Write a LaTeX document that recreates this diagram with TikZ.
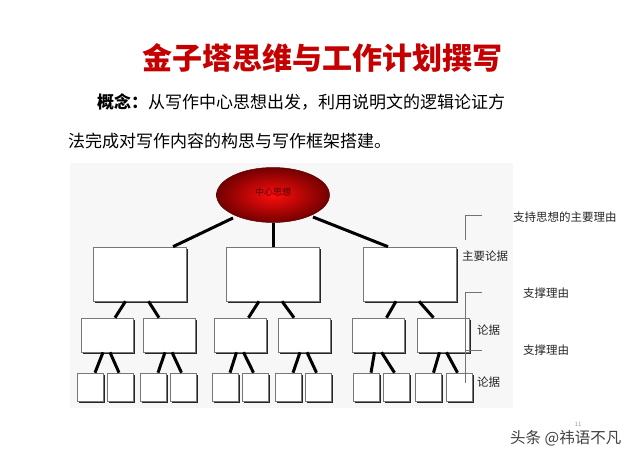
\documentclass[tikz,border=0pt]{standalone}
\usepackage{fontspec}
\setmainfont{Noto Sans CJK SC}
\usetikzlibrary{shadows,calc,shapes.geometric}
\definecolor{titlered}{HTML}{C40000}
\definecolor{bgpanel}{HTML}{F6F7F6}
\definecolor{boxline}{HTML}{777777}
\tikzset{
  box/.style={draw=boxline, line width=0.6pt, fill=white, inner sep=0pt,
    drop shadow={shadow xshift=1.6pt, shadow yshift=-1.6pt, fill=black!85, opacity=1}},
  lvA/.style={box, minimum width=93pt, minimum height=54pt},
  lvB/.style={box, minimum width=52pt, minimum height=34pt},
  lvC/.style={box, minimum width=26pt, minimum height=28pt},
  link/.style={line width=3pt, black},
  brk/.style={draw=black!55, line width=0.6pt},
  note/.style={font=\fontsize{11.5}{12}\selectfont, text=black!85, inner sep=0pt, anchor=west},
}
\begin{document}
\begin{tikzpicture}[x=1pt,y=-1pt]
\useasboundingbox (0,0) rectangle (640,460);
\fill[white] (0,0) rectangle (640,460);
% title
\node[font=\fontsize{30}{32}\selectfont\bfseries, text=titlered, inner sep=0pt] (title) at (322,58) {金子塔思维与工作计划撰写};
% paragraph
\node[font=\fontsize{17}{18}\selectfont, inner sep=0pt, anchor=west] (p1) at (97,102) {{\bfseries 概念：}从写作中心思想出发，利用说明文的逻辑论证方};
\node[font=\fontsize{17}{18}\selectfont, inner sep=0pt, anchor=west] (p2) at (68,141) {法完成对写作内容的构思与写作框架搭建。};
% panel
\fill[bgpanel] (70,163) rectangle (513,408);
% root
\node[ellipse, minimum width=113pt, minimum height=55pt, inner sep=0pt,
  inner color=red!95!white, outer color=red!45!black, draw=red!35!black, line width=0.5pt,
  font=\fontsize{9}{10}\selectfont, text=red!30!black] (root) at (273,195) {\raisebox{6pt}{中心思想}};
% level 1
\node[lvA] (a1) at (139.5,274) {};
\node[lvA] (a2) at (273,274) {};
\node[lvA] (a3) at (410,274) {};
% level 2
\node[lvB] (b1) at (107,335) {};
\node[lvB] (b2) at (169,335) {};
\node[lvB] (b3) at (240.5,335) {};
\node[lvB] (b4) at (304,335) {};
\node[lvB] (b5) at (378.5,335) {};
\node[lvB] (b6) at (443.5,335) {};
% level 3
\node[lvC] (c1) at (90,387) {};
\node[lvC] (c2) at (120.5,387) {};
\node[lvC] (c3) at (153,387) {};
\node[lvC] (c4) at (183,387) {};
\node[lvC] (c5) at (225,387) {};
\node[lvC] (c6) at (255,387) {};
\node[lvC] (c7) at (288,387) {};
\node[lvC] (c8) at (318,387) {};
\node[lvC] (c9) at (366,387) {};
\node[lvC] (c10) at (396,387) {};
\node[lvC] (c11) at (428.5,387) {};
\node[lvC] (c12) at (459,387) {};
% links root -> level 1
\draw[link] ($(root.center)+(-40,23)$) -- ($(a1.north)+(33.5,0)$);
\draw[link] (root.south) -- (a2.north);
\draw[link] ($(root.center)+(40,22)$) -- ($(a3.north)+(-22,0)$);
% links level 1 -> level 2
\foreach \p/\l/\r in {a1/b1/b2, a2/b3/b4, a3/b5/b6}{
  \draw[link] ($(\p.south)+(-14,0)$) -- ($(\l.north)+(8,0)$);
  \draw[link] ($(\p.south)+(9,0)$) -- ($(\r.north)+(-10,0)$);
}
% links level 2 -> level 3
\foreach \p/\l/\r in {b1/c1/c2, b2/c3/c4, b3/c5/c6, b4/c7/c8, b5/c9/c10, b6/c11/c12}{
  \draw[link] ($(\p.south)+(-4,0)$) -- ($(\l.north)+(5,0)$);
  \draw[link] ($(\p.south)+(3,0)$) -- ($(\r.north)+(-1.5,0)$);
}
% brackets
\coordinate (k1) at (465,215);
\coordinate (k1e) at (482,215);
\coordinate (k1b) at (465,240);
\draw[brk] (k1e) -- (k1) -- (k1b);
\coordinate (k2) at (465,292);
\coordinate (k2e) at (482,292);
\coordinate (k2b) at (465,383);
\draw[brk] (k2e) -- (k2) -- (k2b);
\coordinate (k3) at (465,350);
\coordinate (k3e) at (482,350);
\draw[brk] (k3) -- (k3e);
% notes
\node[note] (n1) at (513,217) {支持思想的主要理由};
\node[note, fill=bgpanel] (n2) at (462,256) {主要论据};
\node[note] (n3) at (523,293) {支撑理由};
\node[note, fill=bgpanel] (n4) at (477,330) {论据};
\node[note] (n5) at (523,350) {支撑理由};
\node[note, fill=bgpanel] (n6) at (477,382) {论据};
% page number and watermark
\node[font=\fontsize{6}{6}\selectfont, text=black!40, inner sep=0pt] (pg) at (578,424) {11};
\node[font=\fontsize{15.5}{16}\selectfont, text=black!75, inner sep=0pt, anchor=west] (wm) at (510,438) {头条 @祎语不凡};
\end{tikzpicture}
\end{document}
